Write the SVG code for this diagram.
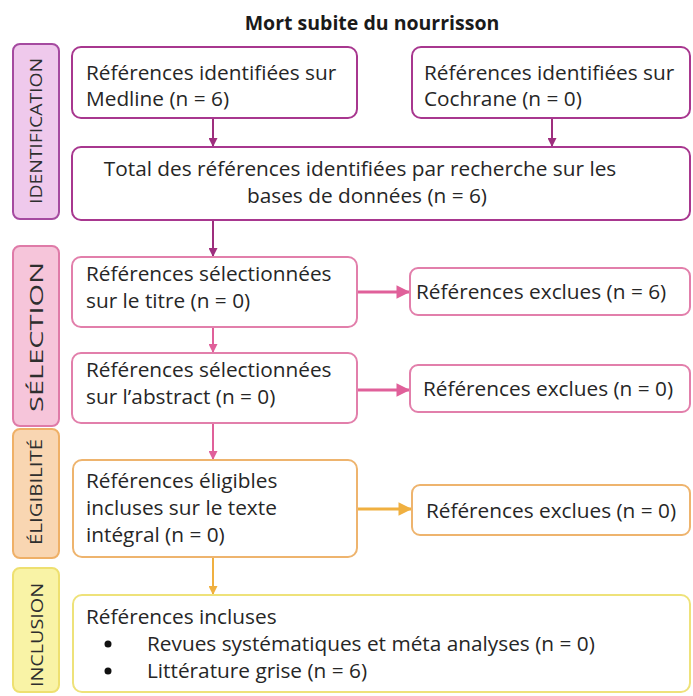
<svg xmlns="http://www.w3.org/2000/svg" width="693" height="696" viewBox="0 0 693 696">
<defs>
<style>
.t{font-family:"Open Sans","Noto Sans",sans-serif;font-size:20.8px;fill:#262626}
.title{font-family:"Open Sans","Noto Sans",sans-serif;font-size:19.5px;font-weight:bold;fill:#1a1a1a}
.side{font-family:"Open Sans","Noto Sans",sans-serif;fill:#2e2e2e}
.box{fill:#ffffff;stroke-width:2}
.pu{stroke:#a8378f}
.pk{stroke:#e27fab}
.or{stroke:#eeb46e}
.ye{stroke:#eee27a}
.c{fill:none}
</style>
<marker id="ap" viewBox="0 0 10 10" refX="10" refY="5" markerWidth="4.5" markerHeight="4.5" orient="auto" markerUnits="strokeWidth"><path d="M0,0L10,5L0,10z" fill="#9e2e7e"/></marker>
<marker id="apk" viewBox="0 0 10 10" refX="10" refY="5" markerWidth="4.5" markerHeight="4.5" orient="auto" markerUnits="strokeWidth"><path d="M0,0L10,5L0,10z" fill="#e0609a"/></marker>
<marker id="apo" viewBox="0 0 10 10" refX="10" refY="5" markerWidth="4.5" markerHeight="4.5" orient="auto" markerUnits="strokeWidth"><path d="M0,0L10,5L0,10z" fill="#f0b040"/></marker>
<marker id="ak" viewBox="0 0 10 10" refX="10" refY="5" markerWidth="4.8" markerHeight="4.5" orient="auto" markerUnits="strokeWidth"><path d="M0,0L10,5L0,10z" fill="#e0609a"/></marker>
<marker id="ao" viewBox="0 0 10 10" refX="10" refY="5" markerWidth="4.8" markerHeight="4.5" orient="auto" markerUnits="strokeWidth"><path d="M0,0L10,5L0,10z" fill="#f0b040"/></marker>
</defs>
<rect width="693" height="696" fill="#ffffff"/>
<text class="title" x="372" y="30" text-anchor="middle">Mort subite du nourrisson</text>

<g id="side-identification">
<rect x="13" y="44" width="46" height="175" rx="7" fill="#efc9ec" stroke="#a54aa0" stroke-width="2"/>
<text class="side" font-size="16" transform="translate(42,131) rotate(-90)" text-anchor="middle" textLength="146" lengthAdjust="spacingAndGlyphs">IDENTIFICATION</text>
</g>
<g id="side-selection">
<rect x="13" y="246" width="46" height="180" rx="7" fill="#f6c5da" stroke="#df7ba8" stroke-width="2"/>
<text class="side" font-size="18" transform="translate(43,337) rotate(-90)" text-anchor="middle" textLength="150" lengthAdjust="spacingAndGlyphs">SÉLECTION</text>
</g>
<g id="side-eligibilite">
<rect x="13" y="429" width="46" height="129" rx="7" fill="#f9d6b2" stroke="#efb067" stroke-width="2"/>
<text class="side" font-size="16" transform="translate(42,492) rotate(-90)" text-anchor="middle" textLength="106" lengthAdjust="spacingAndGlyphs">ÉLIGIBILITÉ</text>
</g>
<g id="side-inclusion">
<rect x="13" y="568" width="46" height="124" rx="7" fill="#f9f3a6" stroke="#eee070" stroke-width="2"/>
<text class="side" font-size="17" transform="translate(43,635) rotate(-90)" text-anchor="middle" textLength="104" lengthAdjust="spacingAndGlyphs">INCLUSION</text>
</g>

<g id="connectors">
<path class="c" d="M213,118V147" stroke="#9e2e7e" stroke-width="2" marker-end="url(#ap)"/>
<path class="c" d="M552,118V147" stroke="#9e2e7e" stroke-width="2" marker-end="url(#ap)"/>
<path class="c" d="M213,220V257" stroke="#9e2e7e" stroke-width="2" marker-end="url(#ap)"/>
<path class="c" d="M213,327V353" stroke="#e0609a" stroke-width="2" marker-end="url(#apk)"/>
<path class="c" d="M357,292H410" stroke="#e0609a" stroke-width="3" marker-end="url(#ak)"/>
<path class="c" d="M357,390H410" stroke="#e0609a" stroke-width="3" marker-end="url(#ak)"/>
<path class="c" d="M213,423V460" stroke="#e0609a" stroke-width="2" marker-end="url(#apk)"/>
<path class="c" d="M357,509H412" stroke="#f0b040" stroke-width="3" marker-end="url(#ao)"/>
<path class="c" d="M213,557V595" stroke="#f0b040" stroke-width="2" marker-end="url(#apo)"/>
</g>

<g id="medline">
<rect class="box pu" x="72" y="47" width="285" height="71" rx="9"/>
<text class="t" x="86" y="80">Références identifiées sur</text>
<text class="t" x="86" y="106">Medline (n = 6)</text>
</g>
<g id="cochrane">
<rect class="box pu" x="412" y="47" width="278" height="71" rx="9"/>
<text class="t" x="424" y="80">Références identifiées sur</text>
<text class="t" x="424" y="106">Cochrane (n = 0)</text>
</g>
<g id="total">
<rect class="box pu" x="72" y="147" width="618" height="73" rx="9"/>
<text class="t" x="360" y="176" text-anchor="middle">Total des références identifiées par recherche sur les</text>
<text class="t" x="367" y="203" text-anchor="middle">bases de données (n = 6)</text>
</g>
<g id="sel-titre">
<rect class="box pk" x="72" y="257" width="285" height="70" rx="9"/>
<text class="t" x="86" y="281">Références sélectionnées</text>
<text class="t" x="86" y="308">sur le titre (n = 0)</text>
</g>
<g id="excl-titre">
<rect class="box pk" x="410" y="268" width="280" height="47" rx="8"/>
<text class="t" x="416" y="299">Références exclues (n = 6)</text>
</g>
<g id="sel-abstract">
<rect class="box pk" x="72" y="353" width="285" height="70" rx="9"/>
<text class="t" x="86" y="377">Références sélectionnées</text>
<text class="t" x="86" y="404">sur l’abstract (n = 0)</text>
</g>
<g id="excl-abstract">
<rect class="box pk" x="410" y="365" width="280" height="47" rx="8"/>
<text class="t" x="548" y="396" text-anchor="middle">Références exclues (n = 0)</text>
</g>
<g id="eligible">
<rect class="box or" x="73" y="460" width="284" height="97" rx="9"/>
<text class="t" x="86" y="488">Références éligibles</text>
<text class="t" x="86" y="515">incluses sur le texte</text>
<text class="t" x="86" y="542">intégral (n = 0)</text>
</g>
<g id="excl-eligible">
<rect class="box or" x="412" y="485" width="278" height="50" rx="8"/>
<text class="t" x="551" y="518" text-anchor="middle">Références exclues (n = 0)</text>
</g>
<g id="inclusion">
<rect class="box ye" x="73" y="595" width="617" height="97" rx="9"/>
<text class="t" x="86" y="624">Références incluses</text>
<circle cx="108" cy="644" r="3.5" fill="#111"/>
<text class="t" x="147" y="651">Revues systématiques et méta analyses (n = 0)</text>
<circle cx="108" cy="671" r="3.5" fill="#111"/>
<text class="t" x="147" y="678">Littérature grise (n = 6)</text>
</g>
</svg>
